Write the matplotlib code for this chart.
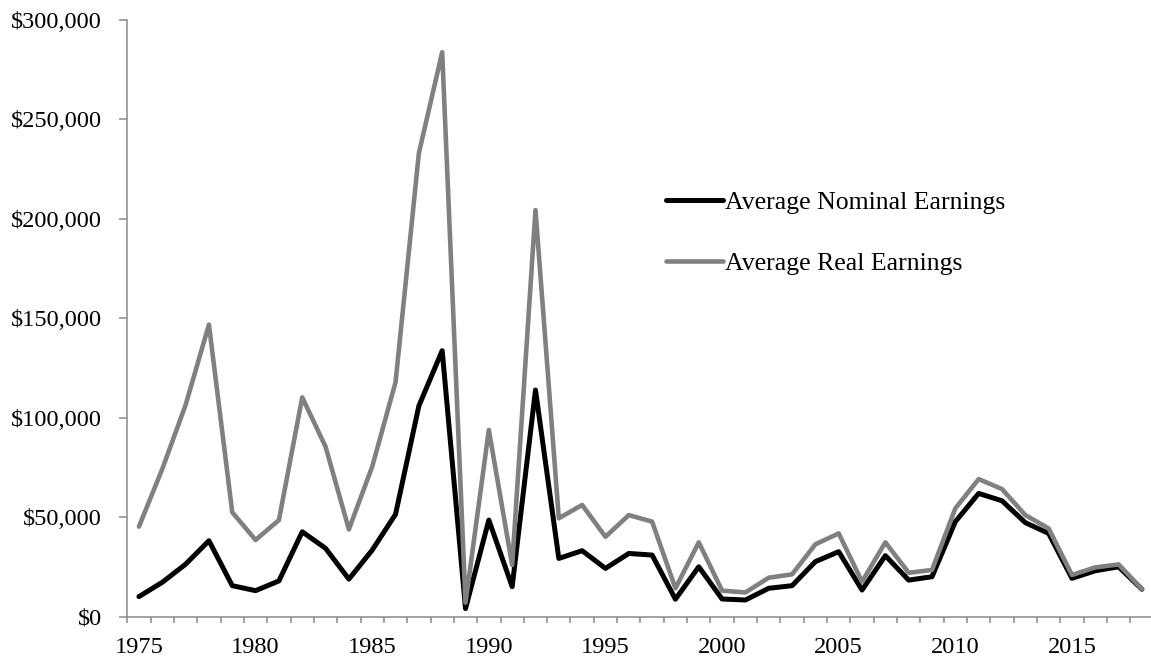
import matplotlib
matplotlib.use("Agg")
import matplotlib.pyplot as plt
from matplotlib.ticker import FuncFormatter, FixedLocator

years = list(range(1975, 2019))
nominal = [10000, 17200, 26300, 38100, 15500, 13000, 17900, 42600, 34300, 18800,
           33400, 51400, 105900, 133700, 4000, 48500, 15000, 113900, 29200, 33100,
           24200, 31700, 30900, 8700, 25000, 8800, 8300, 14200, 15500, 27600,
           32600, 13300, 30600, 18300, 20000, 47700, 61900, 58200, 47200, 41800,
           19200, 23000, 25000, 13700]
real = [45200, 74200, 106400, 146800, 52400, 38500, 48500, 110200, 85400, 43800,
        75400, 117800, 233000, 283800, 7000, 93800, 25900, 204400, 49400, 56100,
        40100, 51000, 47700, 14200, 37300, 13000, 12100, 19500, 21200, 36300,
        41800, 17500, 37300, 22000, 23400, 54400, 69100, 64100, 51000, 44300,
        20900, 24700, 26200, 13800]
series_labels = ["Average Nominal Earnings", "Average Real Earnings"]
xtick_years = [1975, 1980, 1985, 1990, 1995, 2000, 2005, 2010, 2015]

plt.rcParams['font.family'] = ['Liberation Serif', 'DejaVu Serif']
FS = 17.6
LFS = 18.5

fig = plt.figure(figsize=(11.51, 6.59), dpi=100)
ax = fig.add_axes([127.3/1151, 42.5/659, 1026.3/1151, 596.5/659])

l1, = ax.plot(years, nominal, color='black', lw=3.6, solid_joinstyle='round',
              solid_capstyle='round', zorder=3)
l2, = ax.plot(years, real, color='#808080', lw=3.3, solid_joinstyle='round',
              solid_capstyle='round', zorder=4)

ax.set_xlim(1974.5, 2018.5)
ax.set_ylim(0, 300000)

ax.set_yticks(range(0, 300001, 50000))
ax.yaxis.set_major_formatter(FuncFormatter(lambda v, p: "${:,.0f}".format(v)))
ax.set_xticks(xtick_years)
ax.xaxis.set_minor_locator(FixedLocator([y - 0.5 for y in years] + [2018.5]))

spine_c = '#898989'
for s in ['top', 'right']:
    ax.spines[s].set_visible(False)
for s in ['left', 'bottom']:
    ax.spines[s].set_color(spine_c)
    ax.spines[s].set_linewidth(1.1)

ax.tick_params(axis='y', direction='out', length=6, width=1.1, color=spine_c,
               pad=12, labelsize=FS)
ax.tick_params(axis='x', which='major', length=0, pad=15, labelsize=FS)
ax.tick_params(axis='x', which='minor', direction='out', length=4, width=1.1,
               color=spine_c)

leg = ax.legend([l1, l2], series_labels, loc='center left',
                bbox_to_anchor=(666/1151, 1 - 233/659), bbox_transform=fig.transFigure,
                frameon=False, fontsize=LFS, handlelength=2.2, handletextpad=0.1,
                labelspacing=1.45, borderpad=0, borderaxespad=0)

fig.savefig("out.png", dpi=100)
